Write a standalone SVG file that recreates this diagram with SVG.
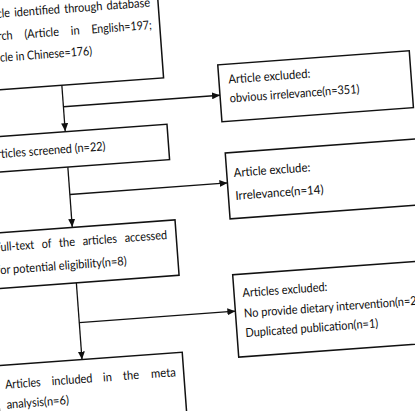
<svg xmlns="http://www.w3.org/2000/svg" width="415" height="411" viewBox="0 0 415 411">
<defs>
<style>
.box{fill:#fff;stroke:#111;stroke-width:1.5}
.ln{fill:none;stroke:#111;stroke-width:1.3}
text{font-family:Lato,"Open Sans",sans-serif;font-size:12.3px;fill:#0d0d0d}
</style>
<marker id="ah" markerUnits="userSpaceOnUse" markerWidth="9" markerHeight="7" refX="8" refY="3.5" orient="auto">
<path d="M0,0 L8,3.5 L0,7 z" fill="#111"/>
</marker>
</defs>
<rect width="415" height="411" fill="#fff"/>
<g transform="rotate(-4.2 207 205)">
<g id="connectors">
<path class="ln" d="M71,75 V121" marker-end="url(#ah)"/>
<path class="ln" d="M71,96.5 H228" marker-end="url(#ah)"/>
<path class="ln" d="M71,157 V217" marker-end="url(#ah)"/>
<path class="ln" d="M71,184.5 H229" marker-end="url(#ah)"/>
<path class="ln" d="M71,273 V350" marker-end="url(#ah)"/>
<path class="ln" d="M71,313 H227.5" marker-end="url(#ah)"/>
</g>
<g id="n1">
<rect class="box" x="-15" y="-25" width="188" height="100"/>
<text x="-6.5" y="3" textLength="31" lengthAdjust="spacingAndGlyphs">Article</text>
<text x="28.8" y="3" textLength="45.8" lengthAdjust="spacingAndGlyphs">identified</text>
<text x="78.9" y="3" textLength="38.3" lengthAdjust="spacingAndGlyphs">through</text>
<text x="121.4" y="3" textLength="43.6" lengthAdjust="spacingAndGlyphs">database</text>
<text x="-6.5" y="25.5" textLength="32.1" lengthAdjust="spacingAndGlyphs">Search</text>
<text x="37.4" y="25.5" textLength="34.6" lengthAdjust="spacingAndGlyphs">(Article</text>
<text x="83.8" y="25.5" textLength="8.9" lengthAdjust="spacingAndGlyphs">in</text>
<text x="104.5" y="25.5" textLength="60.5" lengthAdjust="spacingAndGlyphs">English=197;</text>
<text x="-6.5" y="47" textLength="110.1" lengthAdjust="spacingAndGlyphs">Article in Chinese=176)</text>
</g>
<g id="n2">
<rect class="box" x="228" y="66" width="192" height="57"/>
<text x="237.5" y="85.5" textLength="82" lengthAdjust="spacingAndGlyphs">Article excluded:</text>
<text x="237.5" y="104.5" textLength="130" lengthAdjust="spacingAndGlyphs">obvious irrelevance(n=351)</text>
</g>
<g id="n3">
<rect class="box" x="-15" y="121.5" width="188" height="35.5"/>
<text x="-6" y="143" textLength="116" lengthAdjust="spacingAndGlyphs">Articles screened (n=22)</text>
</g>
<g id="n4">
<rect class="box" x="229" y="154.5" width="191" height="66"/>
<text x="236" y="179" textLength="76.7" lengthAdjust="spacingAndGlyphs">Article exclude:</text>
<text x="236" y="202" textLength="88.3" lengthAdjust="spacingAndGlyphs">Irrelevance(n=14)</text>
</g>
<g id="n5">
<rect class="box" x="-15" y="217.5" width="189" height="55.5"/>
<text x="-7.7" y="236" textLength="39.4" lengthAdjust="spacingAndGlyphs">Full-text</text>
<text x="39.3" y="236" textLength="9.8" lengthAdjust="spacingAndGlyphs">of</text>
<text x="56.7" y="236" textLength="16" lengthAdjust="spacingAndGlyphs">the</text>
<text x="80.3" y="236" textLength="34.5" lengthAdjust="spacingAndGlyphs">articles</text>
<text x="122.4" y="236" textLength="42.6" lengthAdjust="spacingAndGlyphs">accessed</text>
<text x="-7.7" y="259" textLength="130.4" lengthAdjust="spacingAndGlyphs">for potential eligibility(n=8)</text>
</g>
<g id="n6">
<rect class="box" x="227.5" y="276.5" width="202.5" height="82.5"/>
<text x="236" y="299.5" textLength="85" lengthAdjust="spacingAndGlyphs">Articles excluded:</text>
<text x="236" y="320" textLength="176" lengthAdjust="spacingAndGlyphs">No provide dietary intervention(n=2)</text>
<text x="236" y="339.5" textLength="133" lengthAdjust="spacingAndGlyphs">Duplicated publication(n=1)</text>
</g>
<g id="n7">
<rect class="box" x="-15" y="350" width="186.5" height="80"/>
<text x="-7.5" y="373.5" textLength="35.6" lengthAdjust="spacingAndGlyphs">Articles</text>
<text x="39.2" y="373.5" textLength="40.9" lengthAdjust="spacingAndGlyphs">included</text>
<text x="90.6" y="373.5" textLength="8.9" lengthAdjust="spacingAndGlyphs">in</text>
<text x="110.7" y="373.5" textLength="16" lengthAdjust="spacingAndGlyphs">the</text>
<text x="138.8" y="373.5" textLength="24.8" lengthAdjust="spacingAndGlyphs">meta</text>
<text x="-7.5" y="393.5" textLength="62.4" lengthAdjust="spacingAndGlyphs">analysis(n=6)</text>
</g>
</g>
</svg>
